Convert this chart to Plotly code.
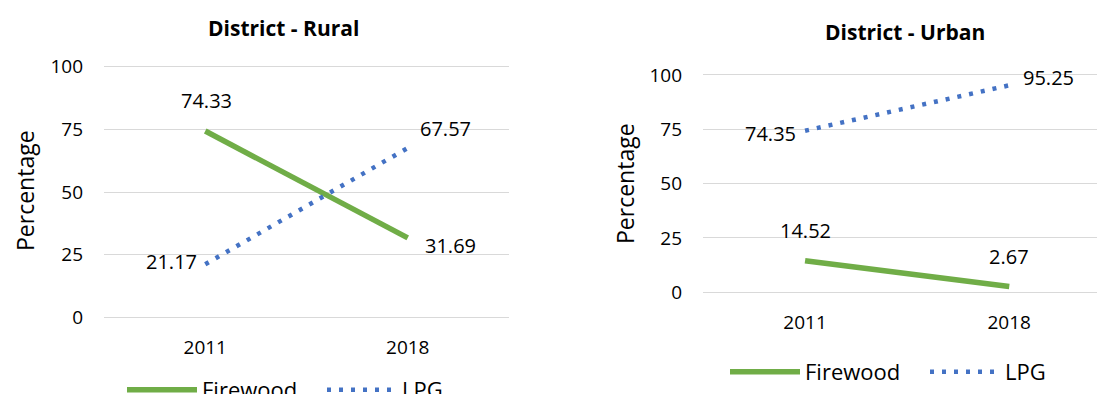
import plotly.graph_objects as go

# ---- data ----
years = ["2011", "2018"]
rural_firewood = [74.33, 31.69]
rural_lpg = [21.17, 67.57]
urban_firewood = [14.52, 2.67]
urban_lpg = [74.35, 95.25]
y_ticks = [0, 25, 50, 75, 100]
panel_titles = ["District - Rural", "District - Urban"]
series_names = ["Firewood", "LPG"]
y_title = "Percentage"

# ---- style ----
GREEN = "#70AD47"
BLUE = "#4472C4"
GRID = "#D9D9D9"
FONT = "Open Sans"
TXT = "#000000"
W, H = 1097, 394

fig = go.Figure()

panels = [
    dict(xa="x", ya="y", leg="legend", fire=rural_firewood, lpg=rural_lpg,
         fire_off=[(1, 31), (43, -8)], lpg_off=[(-34, 3), (38, 19)]),
    dict(xa="x2", ya="y2", leg="legend2", fire=urban_firewood, lpg=urban_lpg,
         fire_off=[(0, 30), (0, 30)], lpg_off=[(-35, -3), (39, 8)]),
]

annotations = []
for p in panels:
    fig.add_trace(go.Scatter(
        x=years, y=p["fire"], name=series_names[0], mode="lines",
        line=dict(color=GREEN, width=5.5),
        xaxis=p["xa"], yaxis=p["ya"], legend=p["leg"], hoverinfo="skip"))
    fig.add_trace(go.Scatter(
        x=years, y=p["lpg"], name=series_names[1], mode="lines",
        line=dict(color=BLUE, width=4.5, dash="4px,8px"),
        xaxis=p["xa"], yaxis=p["ya"], legend=p["leg"], hoverinfo="skip"))
    for vals, offs in ((p["fire"], p["fire_off"]), (p["lpg"], p["lpg_off"])):
        for i, (v, (dx, dy)) in enumerate(zip(vals, offs)):
            annotations.append(dict(
                x=i, y=v, xref=p["xa"], yref=p["ya"], text=f"{v:.2f}",
                showarrow=False, xanchor="center", yanchor="middle",
                xshift=dx, yshift=dy, font=dict(family=FONT, size=20, color=TXT)))

# panel titles
for t, cx, cy in zip(panel_titles, [283, 905], [28, 32]):
    annotations.append(dict(
        x=cx / W, y=1 - cy / H, xref="paper", yref="paper", text=f"<b>{t}</b>",
        showarrow=False, xanchor="center", yanchor="middle",
        font=dict(family=FONT, size=21, color=TXT)))

# y-axis titles
for cx, cy in zip([25, 625], [191, 184]):
    annotations.append(dict(
        x=cx / W, y=1 - cy / H, xref="paper", yref="paper", text=y_title,
        showarrow=False, xanchor="center", yanchor="middle", textangle=-90,
        font=dict(family=FONT, size=23, color=TXT)))

tickfont = dict(family=FONT, size=19, color=TXT)

def xax(domain, rng, anchor):
    return dict(type="category", domain=domain, range=rng, anchor=anchor,
                showgrid=False, showline=False, zeroline=False, ticks="",
                tickfont=tickfont, ticklabelstandoff=12, fixedrange=True)

def yax(domain, anchor):
    return dict(domain=domain, range=[-2, 102], anchor=anchor, tickvals=y_ticks,
                showgrid=True, gridcolor=GRID, gridwidth=1.3, zeroline=False,
                showline=False, ticks="", tickfont=tickfont,
                ticklabelstandoff=20, fixedrange=True)

legend_common = dict(orientation="h", xanchor="left", yanchor="middle",
                     font=dict(family=FONT, size=22, color=TXT),
                     bgcolor="rgba(0,0,0,0)", entrywidth=115, itemwidth=70)

fig.update_layout(
    width=W, height=H,
    margin=dict(l=0, r=0, t=0, b=0, autoexpand=False),
    paper_bgcolor="white", plot_bgcolor="white",
    font=dict(family=FONT, color=TXT),
    xaxis=xax([104 / W, 509 / W], [-0.5, 1.5], "y"),
    yaxis=yax([0.182, 0.8434], "x"),
    xaxis2=xax([703 / W, 1.0], [-0.5, 1.43], "y2"),
    yaxis2=yax([0.2471, 0.8207], "x2"),
    legend=dict(legend_common, x=122 / W, y=1 - 390 / H),
    legend2=dict(legend_common, x=725 / W, y=1 - 372 / H),
    annotations=annotations,
    showlegend=True,
)

fig.write_html("out.html")
